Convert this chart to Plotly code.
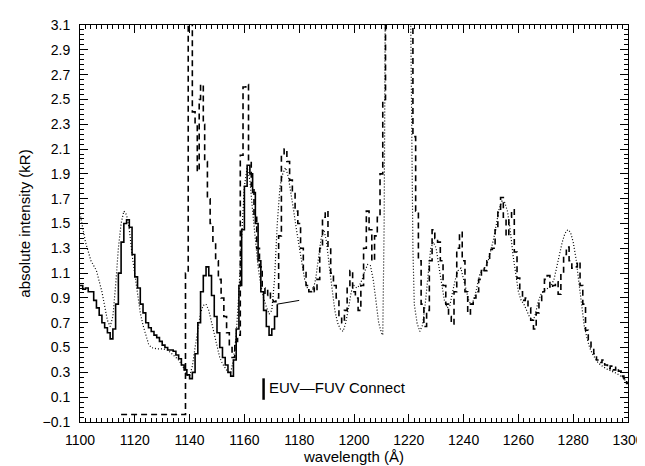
import plotly.graph_objects as go

# ---- data ----
# EUV spectrum (solid histogram)
euv_wl = [1100, 1101, 1102, 1103, 1104, 1105, 1106, 1107, 1108, 1109, 1110, 1111, 1112, 1113, 1114,
          1115, 1116, 1117, 1118, 1119, 1120, 1121, 1122, 1123, 1124, 1125, 1126, 1127, 1128, 1129,
          1130, 1131, 1132, 1133, 1134, 1135, 1136, 1137, 1138, 1139, 1140, 1141, 1142, 1143, 1144,
          1145, 1146, 1147, 1148, 1149, 1150, 1151, 1152, 1153, 1154, 1155, 1156, 1157, 1158, 1159,
          1160, 1161, 1162, 1163, 1164, 1165, 1166, 1167, 1168, 1169, 1170, 1171, 1172]
euv_val = [1.00, 0.97, 0.98, 0.95, 0.95, 0.88, 0.82, 0.76, 0.70, 0.66, 0.62, 0.57, 0.65, 0.85, 1.10,
           1.35, 1.50, 1.53, 1.47, 1.25, 1.07, 0.98, 0.85, 0.78, 0.70, 0.66, 0.63, 0.60, 0.58, 0.55,
           0.52, 0.50, 0.48, 0.48, 0.47, 0.44, 0.41, 0.36, 0.32, 0.28, 0.25, 0.30, 0.45, 0.70, 0.95,
           1.08, 1.15, 1.08, 0.92, 0.75, 0.62, 0.50, 0.42, 0.36, 0.30, 0.27, 0.40, 0.65, 1.00, 1.45,
           1.80, 1.97, 1.90, 1.75, 1.50, 1.20, 0.95, 0.80, 0.67, 0.60, 0.65, 0.75, 0.85]

# EUV-FUV connecting segment
conn_wl = [1172, 1180]
conn_val = [0.85, 0.88]

# FUV spectrum (dashed histogram); values above 3.1 run off the top of the frame
fuv_wl = [1115, 1138.5, 1139.5, 1140.5, 1141, 1142, 1142.8, 1143.5, 1144, 1145, 1145.5, 1146.5,
          1147.5, 1148.5, 1149.5, 1150.5, 1151.5, 1152.5, 1153.5, 1154.5, 1155.5, 1156.5, 1157.5,
          1158.5, 1159.5, 1160.5, 1161.5, 1162.5, 1163.5, 1164.5, 1165.5, 1166.5, 1167.5, 1168.5,
          1169.5, 1170.5, 1171.5, 1172.5, 1173.5, 1174.5, 1175.5, 1176.5, 1177.5, 1178.5, 1179.5,
          1180.5, 1181.5, 1182.5, 1183.5, 1184.5, 1185.5, 1186.5, 1187.5, 1188.5, 1189.5, 1190.5,
          1191.5, 1192.5, 1193.5, 1194.5, 1195.5, 1196.5, 1197.5, 1198.5, 1199.5, 1200.5, 1201.5,
          1202.5, 1203.5, 1204.5, 1205.5, 1206.5, 1207.5, 1208.5, 1209.5, 1210.5, 1211.5, 1220.5,
          1221.5, 1222.5, 1223.5, 1224.5, 1225.5, 1226.5, 1227.5, 1228.5, 1229.5, 1230.5, 1231.5,
          1232.5, 1233.5, 1234.5, 1235.5, 1236.5, 1237.5, 1238.5, 1239.5, 1240.5, 1241.5, 1242.5,
          1243.5, 1244.5, 1245.5, 1246.5, 1247.5, 1248.5, 1249.5, 1250.5, 1251.5, 1252.5, 1253.5,
          1254.5, 1255.5, 1256.5, 1257.5, 1258.5, 1259.5, 1260.5, 1261.5, 1262.5, 1263.5, 1264.5,
          1265.5, 1266.5, 1267.5, 1268.5, 1269.5, 1270.5, 1271.5, 1272.5, 1273.5, 1274.5, 1275.5,
          1276.5, 1277.5, 1278.5, 1279.5, 1280.5, 1281.5, 1282.5, 1283.5, 1284.5, 1285.5, 1286.5,
          1287.5, 1288.5, 1289.5, 1290.5, 1291.5, 1292.5, 1293.5, 1294.5, 1295.5, 1296.5, 1297.5,
          1298.5, 1299.5, 1300]
fuv_val = [-0.04, 1.10, 3.60, 3.60, 2.40, 2.30, 1.92, 2.50, 2.62, 2.30, 2.00, 1.70,
           1.50, 1.35, 1.20, 1.05, 0.90, 0.75, 0.62, 0.50, 0.42, 0.55, 0.60,
           2.05, 2.60, 2.62, 2.00, 1.80, 1.55, 1.30, 1.15, 0.98, 0.92, 0.96,
           0.90, 0.87, 0.90, 1.40, 2.05, 2.10, 2.00, 1.85, 1.75, 1.60, 1.50,
           1.30, 1.12, 1.00, 0.95, 0.98, 0.95, 1.05, 1.30, 1.55, 1.60, 1.30,
           1.10, 1.00, 0.90, 0.75, 0.70, 0.80, 1.00, 1.12, 0.95, 0.90, 0.80,
           1.00, 1.30, 1.60, 1.45, 1.20, 1.40, 1.55, 1.90, 2.50, 3.60, 3.60,
           2.20, 1.60, 1.20, 0.85, 0.67, 0.80, 1.20, 1.45, 1.38, 1.35, 1.20,
           1.00, 0.85, 0.75, 0.69, 0.95, 1.30, 1.43, 1.20, 0.95, 0.77, 0.85,
           0.90, 0.95, 1.05, 1.14, 1.12, 1.20, 1.29, 1.30, 1.45, 1.60, 1.71,
           1.55, 1.40, 1.55, 1.61, 1.27, 1.06, 0.95, 0.88, 0.90, 0.82, 0.72,
           0.65, 0.78, 0.88, 0.95, 1.05, 1.08, 0.98, 1.00, 1.03, 0.93, 1.10,
           1.25, 1.31, 1.20, 1.14, 1.15, 1.19, 1.00, 0.85, 0.64, 0.55, 0.50,
           0.45, 0.40, 0.38, 0.40, 0.36, 0.33, 0.35, 0.32, 0.34, 0.31, 0.27,
           0.25, 0.21, 0.21]

# Model spectrum (dotted, smooth)
mod_wl = [1100, 1102, 1104, 1106, 1108, 1110, 1111, 1112, 1113, 1114, 1115, 1116, 1117, 1118, 1119,
          1120, 1121, 1122, 1123, 1124, 1125, 1126, 1128, 1130, 1132, 1134, 1136, 1138, 1139, 1140,
          1141, 1142, 1143, 1144, 1145, 1146, 1147, 1148, 1149, 1150, 1151, 1152, 1153, 1154, 1155,
          1156, 1157, 1158, 1159, 1160, 1161, 1162, 1163, 1164, 1165, 1166, 1167, 1168, 1169, 1170,
          1171, 1172, 1173, 1174, 1175, 1176, 1177, 1178, 1179, 1180, 1181, 1182, 1183, 1184, 1185,
          1186, 1187, 1188, 1189, 1190, 1191, 1192, 1193, 1194, 1195, 1196, 1197, 1198, 1199, 1200,
          1201, 1202, 1203, 1204, 1205, 1206, 1207, 1208, 1209, 1210, 1210.5, 1211, 1211.5, 1220.5,
          1221, 1221.5, 1222, 1223, 1224, 1225, 1226, 1227, 1228, 1229, 1230, 1231, 1232, 1233, 1234,
          1235, 1236, 1237, 1238, 1239, 1240, 1241, 1242, 1243, 1244, 1245, 1246, 1247, 1248, 1249,
          1250, 1251, 1252, 1253, 1254, 1255, 1256, 1257, 1258, 1259, 1260, 1261, 1262, 1263, 1264,
          1265, 1266, 1267, 1268, 1269, 1270, 1271, 1272, 1273, 1274, 1275, 1276, 1277, 1278, 1279,
          1280, 1281, 1282, 1283, 1284, 1285, 1286, 1287, 1288, 1289, 1290, 1292, 1294, 1296, 1298,
          1300]
mod_val = [1.58, 1.35, 1.20, 1.12, 0.95, 0.72, 0.67, 0.75, 1.00, 1.30, 1.50, 1.60, 1.57, 1.45, 1.25,
           1.08, 0.92, 0.78, 0.68, 0.60, 0.53, 0.50, 0.49, 0.49, 0.48, 0.44, 0.40, 0.33, 0.28, 0.27,
           0.35, 0.50, 0.65, 0.78, 0.84, 0.85, 0.80, 0.70, 0.60, 0.50, 0.42, 0.37, 0.33, 0.30, 0.30,
           0.40, 0.60, 0.95, 1.40, 1.80, 1.95, 1.85, 1.60, 1.35, 1.15, 1.00, 0.90, 0.83, 0.77, 0.80,
           1.05, 1.50, 1.80, 1.90, 1.95, 1.88, 1.75, 1.60, 1.45, 1.30, 1.18, 1.05, 0.98, 0.95, 0.96,
           1.05, 1.20, 1.38, 1.45, 1.35, 1.15, 0.95, 0.80, 0.70, 0.65, 0.63, 0.70, 0.82, 0.95, 1.00,
           0.98, 1.00, 1.05, 1.12, 1.17, 1.16, 1.05, 0.88, 0.70, 0.62, 0.60, 1.50, 3.60, 3.60,
           2.30, 1.30, 0.85, 0.70, 0.63, 0.68, 0.85, 1.10, 1.30, 1.35, 1.30, 1.15, 1.00, 0.88, 0.82,
           0.84, 0.95, 1.05, 1.12, 1.14, 1.05, 0.95, 0.87, 0.85, 0.90, 1.00, 1.10, 1.12, 1.15, 1.20,
           1.28, 1.38, 1.50, 1.62, 1.68, 1.67, 1.60, 1.45, 1.25, 1.08, 0.95, 0.88, 0.85, 0.80, 0.75,
           0.72, 0.75, 0.85, 0.92, 0.95, 0.97, 0.98, 1.00, 1.05, 1.15, 1.25, 1.35, 1.42, 1.45, 1.43,
           1.35, 1.22, 1.05, 0.85, 0.68, 0.58, 0.50, 0.45, 0.41, 0.38, 0.36, 0.33, 0.31, 0.29, 0.26,
           0.21]

x_ticks = [1100, 1120, 1140, 1160, 1180, 1200, 1220, 1240, 1260, 1280, 1300]
y_ticks = [-0.1, 0.1, 0.3, 0.5, 0.7, 0.9, 1.1, 1.3, 1.5, 1.7, 1.9, 2.1, 2.3, 2.5, 2.7, 2.9, 3.1]
legend_label = "EUV\u2014FUV Connect"

FONT = "Liberation Sans, Arial, Helvetica, sans-serif"

fig = go.Figure()
fig.add_trace(go.Scatter(x=mod_wl, y=mod_val, mode="lines",
                         line=dict(color="black", width=1.2, dash="1px,2px"),
                         showlegend=False))
fig.add_trace(go.Scatter(x=fuv_wl, y=fuv_val, mode="lines", line_shape="hv",
                         line=dict(color="black", width=1.6, dash="6px,4px"),
                         showlegend=False))
fig.add_trace(go.Scatter(x=euv_wl, y=euv_val, mode="lines", line_shape="hv",
                         line=dict(color="black", width=1.6),
                         showlegend=False))
fig.add_trace(go.Scatter(x=conn_wl, y=conn_val, mode="lines",
                         line=dict(color="black", width=1),
                         showlegend=False))

axis_common = dict(showline=True, linecolor="black", linewidth=1, mirror="ticks",
                   ticks="inside", ticklen=8, tickcolor="black", tickwidth=1,
                   showgrid=False, zeroline=False,
                   tickfont=dict(family=FONT, size=14, color="black"),
                   title_font=dict(family=FONT, size=15, color="black"))

fig.update_xaxes(range=[1100, 1300], tickvals=x_ticks, ticktext=[str(v) for v in x_ticks],
                 minor=dict(dtick=2, tick0=1100, ticks="inside", ticklen=4, tickcolor="black"),
                 title_text="wavelength (Å)", title_standoff=2, ticklabelstandoff=5,
                 **axis_common)
fig.update_yaxes(range=[-0.1, 3.1], tickvals=y_ticks, ticktext=[f"{v:.1f}".replace("-", "\u2212") for v in y_ticks],
                 minor=dict(dtick=0.04, tick0=-0.1, ticks="inside", ticklen=4, tickcolor="black"),
                 title_text="absolute intensity (kR)", title_standoff=8, ticklabelstandoff=6,
                 **axis_common)

fig.add_shape(type="line", xref="paper", yref="paper", x0=0.335, x1=0.335, y0=0.056, y1=0.11,
              line=dict(color="black", width=2.5))
fig.add_annotation(xref="paper", yref="paper", x=0.342, y=0.088, xanchor="left", yanchor="middle",
                   text=legend_label, showarrow=False,
                   font=dict(family=FONT, size=15, color="black"))

fig.update_layout(width=645, height=466, margin=dict(l=72, r=21, t=9, b=52),
                  plot_bgcolor="white", paper_bgcolor="white", showlegend=False)

fig.write_html("out.html")
